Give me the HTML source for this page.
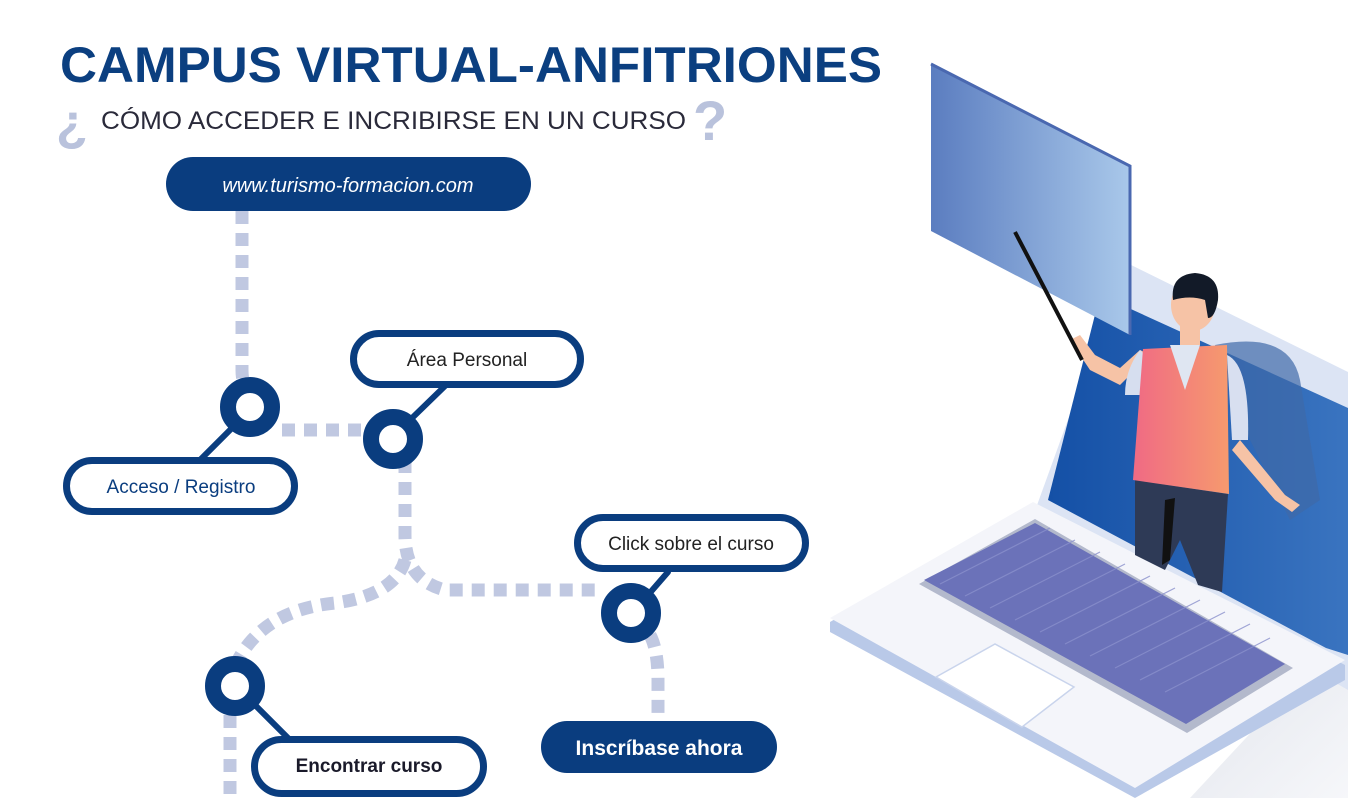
<!DOCTYPE html>
<html><head><meta charset="utf-8"><style>
html,body{margin:0;padding:0;background:#fff;}
svg{display:block;}
</style></head><body>
<svg width="1348" height="798" viewBox="0 0 1348 798" xmlns="http://www.w3.org/2000/svg">
<defs>
<linearGradient id="board" x1="0" x2="1" y1="0" y2="0"><stop offset="0" stop-color="#5b7dc0"/><stop offset="1" stop-color="#a9c8ea"/></linearGradient>
<linearGradient id="vest" x1="0" x2="1" y1="0" y2="0"><stop offset="0" stop-color="#f06a84"/><stop offset="1" stop-color="#f69a6e"/></linearGradient>
<linearGradient id="scr" x1="0" x2="1" y1="0" y2="0"><stop offset="0" stop-color="#1450a6"/><stop offset="1" stop-color="#3a74c0"/></linearGradient>
<linearGradient id="shd" x1="0" x2="1" y1="0" y2="1"><stop offset="0" stop-color="#e2e5ec"/><stop offset="1" stop-color="#f6f7fa"/></linearGradient>
</defs>

<!-- Title -->
<text x="60" y="82" font-family="Liberation Sans, sans-serif" font-weight="bold" font-size="50" fill="#0b3f80" textLength="822" lengthAdjust="spacingAndGlyphs">CAMPUS VIRTUAL-ANFITRIONES</text>
<text x="56" y="140" font-family="Liberation Sans, sans-serif" font-weight="bold" font-size="52" fill="#b9c2dc">¿</text>
<text x="101" y="129" font-family="Liberation Sans, sans-serif" font-size="25" fill="#2a2a3a" textLength="585" lengthAdjust="spacingAndGlyphs">CÓMO ACCEDER E INCRIBIRSE EN UN CURSO</text>
<text x="693" y="140" font-family="Liberation Sans, sans-serif" font-weight="bold" font-size="56" fill="#b9c2dc">?</text>

<!-- dashed paths -->
<g fill="none" stroke="#c0c8e1" stroke-width="13" stroke-dasharray="13 9">
<path d="M242 211 V370 Q242 395 262 410"/>
<path d="M282 430 H365"/>
<path d="M405 460 V535 Q405 580 445 590 H600"/>
<path d="M405 560 Q395 595 335 603 Q265 610 238 660"/>
<path d="M650 635 Q658 650 658 680 V722"/>
<path d="M230 715 V798"/>
</g>

<!-- connector lines -->
<g stroke="#0a3d7f" stroke-width="6" stroke-linecap="round">
<line x1="235" y1="425" x2="200" y2="460"/>
<line x1="410" y1="420" x2="445" y2="386"/>
<line x1="648" y1="595" x2="668" y2="572"/>
<line x1="255" y1="705" x2="290" y2="740"/>
</g>

<!-- nodes -->
<g fill="#fff" stroke="#0a3d7f" stroke-width="16">
<circle cx="250" cy="407" r="22"/>
<circle cx="393" cy="439" r="22"/>
<circle cx="631" cy="613" r="22"/>
<circle cx="235" cy="686" r="22"/>
</g>

<!-- pills -->
<rect x="166" y="157" width="365" height="54" rx="27" fill="#0a3d7f"/>
<text x="348" y="192" text-anchor="middle" font-family="Liberation Sans, sans-serif" font-style="italic" font-size="20" fill="#fff">www.turismo-formacion.com</text>

<g fill="#fff" stroke="#0a3d7f" stroke-width="7">
<rect x="353.5" y="333.5" width="227" height="51" rx="25.5"/>
<rect x="66.5" y="460.5" width="228" height="51" rx="25.5"/>
<rect x="577.5" y="517.5" width="228" height="51" rx="25.5"/>
<rect x="254.5" y="739.5" width="229" height="54" rx="27"/>
</g>
<text x="467" y="366" text-anchor="middle" font-family="Liberation Sans, sans-serif" font-size="19" fill="#222">Área Personal</text>
<text x="181" y="493" text-anchor="middle" font-family="Liberation Sans, sans-serif" font-size="19" fill="#0a3d7f">Acceso / Registro</text>
<text x="691" y="550" text-anchor="middle" font-family="Liberation Sans, sans-serif" font-size="19" fill="#222">Click sobre el curso</text>
<text x="369" y="772" text-anchor="middle" font-family="Liberation Sans, sans-serif" font-weight="bold" font-size="19" fill="#1a1a2a">Encontrar curso</text>
<rect x="541" y="721" width="236" height="52" rx="26" fill="#0a3d7f"/>
<text x="659" y="755" text-anchor="middle" font-family="Liberation Sans, sans-serif" font-weight="bold" font-size="21" fill="#fff">Inscríbase ahora</text>

<!-- Illustration -->
<polygon points="1300,680 1348,650 1348,798 1190,798" fill="url(#shd)"/>
<!-- screen frame -->
<polygon points="1125,262 1348,372 1348,690 1322,675 1036,508" fill="#dce4f4"/>
<polygon points="1100,295 1348,408 1348,655 1326,648 1048,500" fill="url(#scr)"/>
<!-- shadow figure -->
<path d="M1215,345 Q1290,330 1300,380 L1320,500 L1290,520 L1250,440 Z" fill="#3f6aa8" opacity="0.7"/>
<!-- deck -->
<polygon points="830,622 1033,505 1345,665 1345,680 1135,798 830,632" fill="#b9c9e8"/>
<polygon points="830,618 1033,502 1345,660 1135,788" fill="#f4f5fa"/>
<polygon points="919,584 1035,519 1293,668 1187,733" fill="#b3b9cc"/>
<polygon points="924,580 1035,523 1285,664 1186,724" fill="#6b72b9"/>
<g stroke="#8a90cc" stroke-width="1.2" opacity="0.8">
<line x1="940" y1="584" x2="1050" y2="528"/><line x1="965" y1="596" x2="1075" y2="540"/>
<line x1="990" y1="608" x2="1100" y2="552"/><line x1="1015" y1="620" x2="1125" y2="564"/>
<line x1="1040" y1="632" x2="1150" y2="576"/><line x1="1065" y1="644" x2="1175" y2="588"/>
<line x1="1090" y1="656" x2="1200" y2="600"/><line x1="1115" y1="668" x2="1225" y2="612"/>
<line x1="1140" y1="680" x2="1250" y2="624"/><line x1="1165" y1="692" x2="1270" y2="638"/>
</g>
<polygon points="936,677 995,644 1074,687 1022,727" fill="#fff" stroke="#c9d4ec" stroke-width="1.5"/>
<!-- board -->
<polygon points="931,64 1130,166 1130,335 931,231" fill="url(#board)"/>
<polyline points="931,64 1130,166 1130,335" fill="none" stroke="#4a68b0" stroke-width="3"/>
<!-- person -->
<polygon points="1135,480 1228,494 1222,592 1198,585 1180,540 1165,570 1135,555" fill="#2e3a56"/>
<polygon points="1165,500 1175,498 1170,560 1162,565" fill="#111"/>
<path d="M1150,355 L1120,385 L1090,370 L1070,340 L1080,335 L1095,355 L1120,368 L1140,350 Z" fill="#f6c3a6"/>
<path d="M1140,350 Q1125,370 1125,395 L1140,395 L1150,360 Z" fill="#d6deef"/>
<polygon points="1143,349 1227,345 1229,494 1133,480" fill="url(#vest)"/>
<polygon points="1170,345 1200,345 1185,390" fill="#dfe6f2"/>
<path d="M1227,355 Q1250,365 1248,440 L1232,440 Z" fill="#d8dff0"/>
<path d="M1240,440 L1285,495 L1300,505 L1292,512 L1275,500 L1232,450 Z" fill="#f6c3a6"/>
<rect x="1180" y="315" width="20" height="30" fill="#f6c3a6"/>
<ellipse cx="1193" cy="305" rx="22" ry="26" fill="#f6c3a6"/>
<path d="M1173,300 Q1170,275 1195,273 Q1220,275 1218,300 Q1215,318 1208,318 L1205,300 Q1190,295 1173,300 Z" fill="#121a28"/>
<line x1="1015" y1="232" x2="1082" y2="360" stroke="#111" stroke-width="4"/>
</svg>
</body></html>
